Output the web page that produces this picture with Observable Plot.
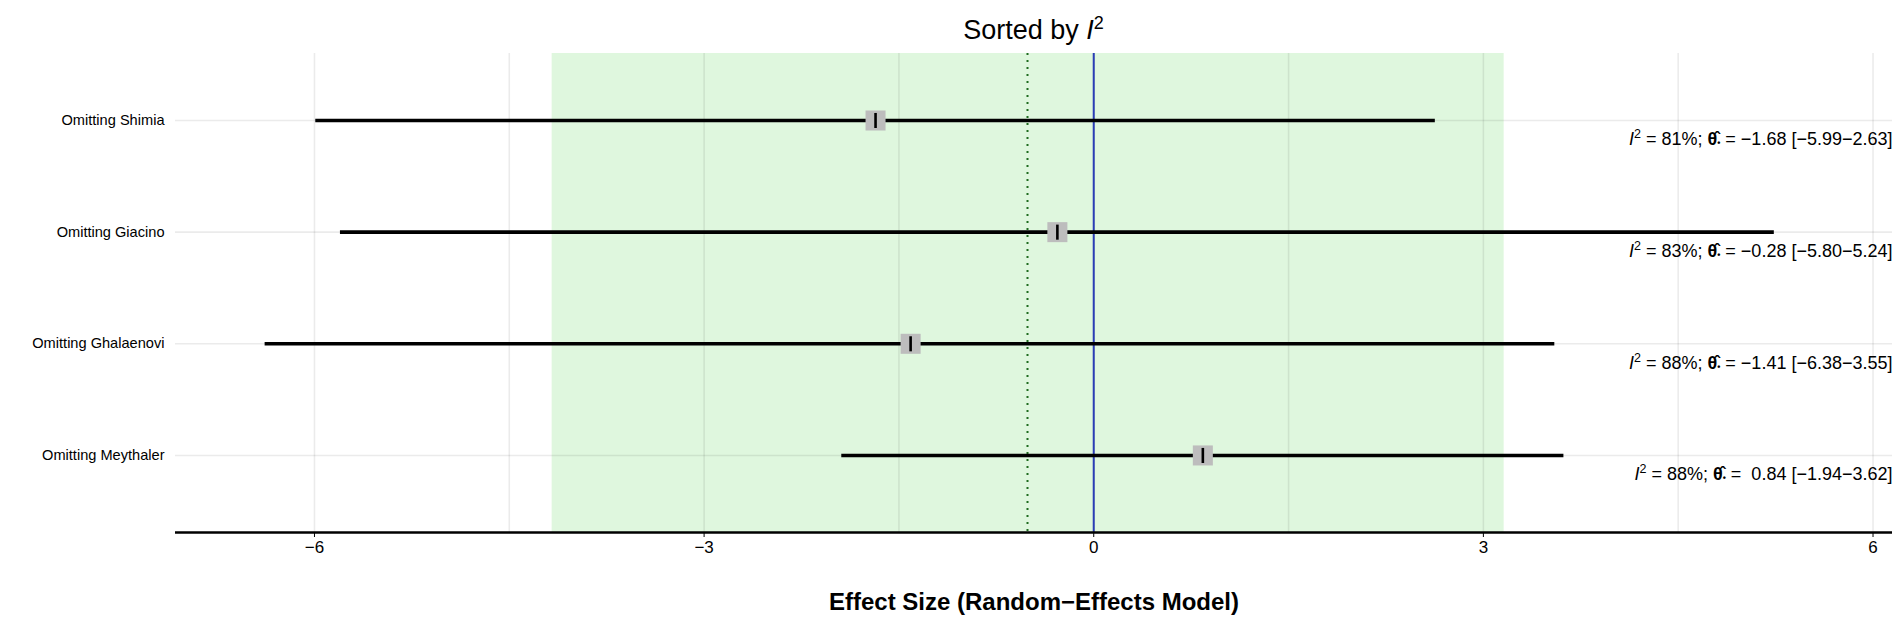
<!DOCTYPE html>
<html>
<head>
<meta charset="utf-8">
<script src="https://cdn.jsdelivr.net/npm/d3@7"></script>
<script src="https://cdn.jsdelivr.net/npm/@observablehq/plot@0.6"></script>
<style>
  html, body { margin: 0; padding: 0; background: #fff; }
  body { width: 1896px; font-family: "Liberation Sans", Arial, sans-serif; }
  #title { height: 48px; line-height: 46px; font-size: 27px; color: #000;
           box-sizing: border-box; padding-left: 175px; padding-right: 4px; text-align: center; }
  #chart svg { display: block; }
</style>
</head>
<body>
<div id="title">Sorted by <i>I</i><sup style="font-size:18px;">2</sup></div>
<div id="chart"></div>
<script>
// ---- data ----
const studies = ["Omitting Shimia", "Omitting Giacino", "Omitting Ghalaenovi", "Omitting Meythaler"];
const i2 = [81, 83, 88, 88];
const estimate = [-1.68, -0.28, -1.41, 0.84];
const lower = [-5.99, -5.80, -6.38, -1.94];
const upper = [2.63, 5.24, 3.55, 3.62];
const overallEffect = -0.51;
const predictionLower = -4.17;
const predictionUpper = 3.16;
const nullEffect = 0;
const xTicks = [-6, -3, 0, 3, 6];
const xMinorGrid = [-4.5, -1.5, 1.5, 4.5];

// ---- helpers ----
const minus = v => (v < 0 ? "\u2212" : "") + Math.abs(v).toFixed(2);
const padded = v => (v < 0 ? "\u2212" : " ") + Math.abs(v).toFixed(2);
const rows = studies.map((s, i) => ({
  i, study: s, est: estimate[i], lo: lower[i], hi: upper[i], i2: i2[i],
  label: `I² = ${i2[i]}%; θ̂• = ${padded(estimate[i])} [${minus(lower[i])}\u2212${minus(upper[i])}]`
}));
const yDomain = [-0.6, 3.69];

const tickSymbol = {
  draw(ctx, size) { const h = Math.sqrt(size) / 2; ctx.moveTo(0, -h); ctx.lineTo(0, h); }
};

const svg = Plot.plot({
  width: 1896,
  height: 575,
  marginTop: 5,
  marginBottom: 91,
  marginLeft: 175,
  marginRight: 4,
  style: { fontFamily: "Liberation Sans, Arial, sans-serif", color: "#000", background: "#fff" },
  x: { domain: [-7.07, 6.15] },
  y: { domain: yDomain, reverse: true },
  marks: [
    Plot.rect([{ x1: predictionLower, x2: predictionUpper }], { x1: "x1", x2: "x2", fill: "#dff7de" }),
    Plot.ruleX(xTicks.concat(xMinorGrid), { stroke: "#000", strokeOpacity: 0.08, strokeWidth: 1.6 }),
    Plot.ruleY(rows, { y: "i", stroke: "#000", strokeOpacity: 0.08, strokeWidth: 1.6 }),
    Plot.ruleX([overallEffect], { stroke: "#1f6b1f", strokeWidth: 2, strokeDasharray: "2,5" }),
    Plot.ruleX([nullEffect], { stroke: "#2a3db5", strokeWidth: 2 }),
    Plot.ruleY(rows, { y: "i", x1: "lo", x2: "hi", stroke: "#000", strokeWidth: 3.6 }),
    Plot.dot(rows, { x: "est", y: "i", symbol: "square", r: 11.3, fill: "#bdbdbd", stroke: "none" }),
    Plot.dot(rows, { x: "est", y: "i", symbol: tickSymbol, r: 8.5, stroke: "#000", strokeWidth: 2.6, fill: "none" }),
    Plot.ruleY([yDomain[1]], { stroke: "#000", strokeWidth: 2.6 }),
    Plot.axisX({ ticks: xTicks, tickSize: 5, tickPadding: 3, fontSize: 17, stroke: "#000", label: null, tickFormat: d => (d < 0 ? "\u2212" : "") + Math.abs(d) }),
    Plot.axisY({ ticks: rows.map(d => d.i), tickFormat: i => studies[i], tickSize: 0, tickPadding: 11, fontSize: 14.6, label: null }),
    Plot.text(rows, { y: "i", text: "label", frameAnchor: "right", textAnchor: "end", dy: 19, fontSize: 18, fill: "#000" }),
    Plot.text(["Effect Size (Random\u2212Effects Model)"], { frameAnchor: "bottom", dy: 77, fontSize: 24, fontWeight: "bold", fill: "#000" })
  ]
});

// rich formatting of the right-hand labels
const textGroups = svg.querySelectorAll('g[aria-label="text"]');
if (textGroups.length) {
  textGroups[0].querySelectorAll("text").forEach((t, k) => {
    const d = rows[k];
    t.textContent = "";
    t.setAttribute("style", "white-space: pre");
    const s = d3.select(t);
    s.append("tspan").attr("font-style", "italic").text("I");
    s.append("tspan").attr("font-size", 12.5).attr("dy", -7).text("2");
    s.append("tspan").attr("dy", 7).text(` = ${d.i2}%; `);
    s.append("tspan").attr("font-weight", "bold").text("θ̂");
    s.append("tspan").attr("font-size", 9).attr("font-weight", "bold").attr("dy", 1).text("•");
    s.append("tspan").attr("dy", -1).text(` = ${padded(d.est)} [${minus(d.lo)}\u2212${minus(d.hi)}]`);
  });
}

document.getElementById("chart").appendChild(svg);
</script>
</body>
</html>
